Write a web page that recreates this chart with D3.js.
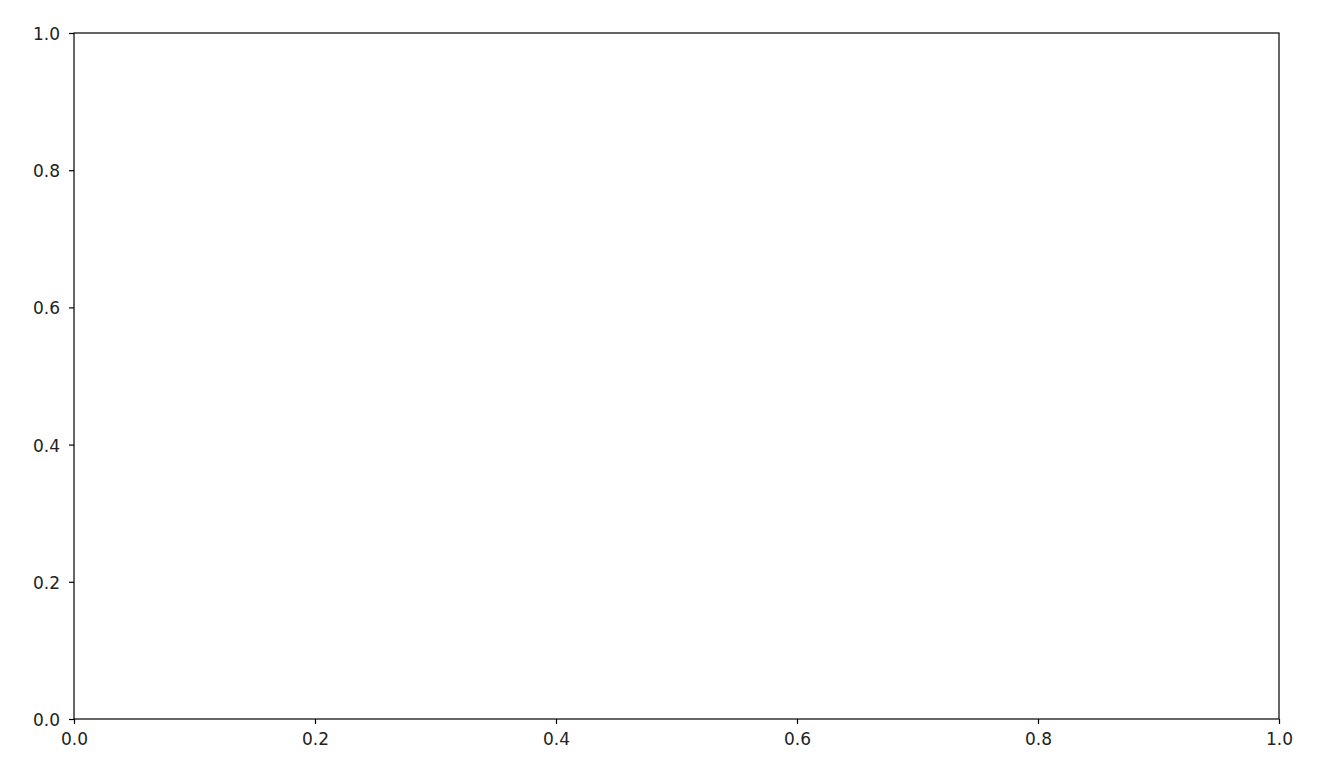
<!DOCTYPE html>
<html><head><meta charset="utf-8">
<script src="https://cdn.jsdelivr.net/npm/d3@7"></script>
<style>body{margin:0;background:#fff}svg{display:block}</style>
</head><body>
<script>
const xTicks = [0.0, 0.2, 0.4, 0.6, 0.8, 1.0];
const yTicks = [0.0, 0.2, 0.4, 0.6, 0.8, 1.0];
const xDomain = [0, 1];
const yDomain = [0, 1];

const W = 1332, H = 766;
const m = {left: 74, right: 1279, top: 33, bottom: 719};
const svg = d3.select("body").append("svg").attr("width", W).attr("height", H);
const x = d3.scaleLinear().domain(xDomain).range([m.left, m.right]);
const y = d3.scaleLinear().domain(yDomain).range([m.bottom, m.top]);

const fmt = d3.format(".1f");
const gx = svg.append("g").attr("transform", `translate(0,${m.bottom})`)
  .call(d3.axisBottom(x).tickValues(xTicks).tickFormat(fmt).tickSize(5).tickPadding(8.5));
const gy = svg.append("g").attr("transform", `translate(${m.left},0)`)
  .call(d3.axisLeft(y).tickValues(yTicks).tickFormat(fmt).tickSize(5).tickPadding(9));
[gx, gy].forEach(g => {
  g.select(".domain").remove();
  g.selectAll("line").attr("stroke", "#000").attr("stroke-width", 1.2);
  g.selectAll("text").attr("fill", "#222").style("font-family", "DejaVu Sans").style("font-size", "17px");
});
gy.selectAll("text").attr("dy", "0.38em");
svg.append("rect").attr("x", m.left).attr("y", m.top)
  .attr("width", m.right - m.left).attr("height", m.bottom - m.top)
  .attr("fill", "none").attr("stroke", "#000").attr("stroke-width", 1.2);
</script>
</body></html>
